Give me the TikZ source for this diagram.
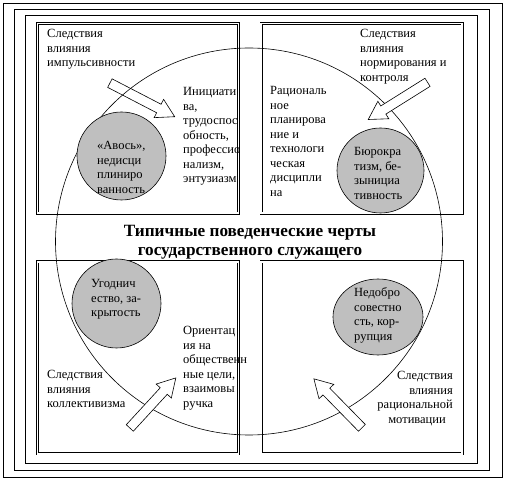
\documentclass[tikz,border=0pt]{standalone}
\usepackage{fontspec}
\setmainfont{Liberation Serif}
\usetikzlibrary{shapes.geometric,shapes.arrows,positioning}

\begin{document}
\begin{tikzpicture}[x=1pt, y=-1pt,
  frame/.style={draw, line width=0.8pt},
  qbox/.style={draw, double, line width=0.7pt, double distance=1.6pt},
  core/.style={circle, draw, line width=0.6pt, inner sep=0pt},
  gcirc/.style={ellipse, draw, fill=black!25, line width=0.6pt, inner sep=0pt},
  blockarr/.style={single arrow, draw, fill=white, line width=0.6pt, minimum height=#1, inner sep=4.5pt, single arrow head extend=5.5pt, single arrow tip angle=60},
  txt/.style={anchor=north west, align=left, inner sep=0pt, font=\fontsize{12.5}{14.5}\selectfont},
  rtxt/.style={anchor=north east, align=right, inner sep=0pt, font=\fontsize{12.5}{14.5}\selectfont},
  title/.style={align=center, inner sep=0pt, font=\fontsize{17.2}{19}\selectfont\bfseries}
]
\useasboundingbox (0,0) rectangle (507,481);
\draw[frame] (3,3) rectangle (502.5,477.5);
\draw[frame] (14,9) rectangle (489.5,470.5);
\draw[frame] (25.5,15) rectangle (477,463);

\draw[qbox] (37.5,23.5) rectangle (238.5,213.3);
\draw[qbox] (261.2,23.5) rectangle (462.2,213.3);
\draw[qbox] (37.5,262) rectangle (238.5,454);
\draw[qbox] (261.2,262) rectangle (462.2,454);

\node[blockarr=73pt, rotate=-27.4] (atl) at (138.6,98) {};
\node[core, minimum size=387pt] (ring) at (249,241.5) {};
\node[blockarr=70pt, rotate=212.1] (atr) at (401.4,98.7) {};
\node[blockarr=68pt, rotate=47.4] (abl) at (150,406) {};
\node[blockarr=68.6pt, rotate=134.4] (abr) at (340.8,406.3) {};

\node[gcirc, minimum width=89pt, minimum height=88pt] (ctl) at (121.5,156) {};
\node[gcirc, minimum width=87pt, minimum height=85pt] (ctr) at (380.5,170.5) {};
\node[gcirc, minimum width=89pt, minimum height=89pt] (cbl) at (116.5,303.5) {};
\node[gcirc, minimum width=90pt, minimum height=76pt] (cbr) at (378,317) {};

\node[title] (head) at (250,242) {Типичные поведенческие черты\\государственного служащего};

\node[txt] (tlsrc) at (47,29.5) {Следствия\\влияния\\импульсивности};
\node[txt] (tlpos) at (183,87.5) {Инициати\\ва,\\трудоспос\\обность,\\профессио\\нализм,\\энтузиазм};
\node[txt] (tlneg) at (97,141.5) {«Авось»,\\недисци\\плиниро\\ванность};

\node[txt] (trsrc) at (360,29.5) {Следствия\\влияния\\нормирования и\\контроля};
\node[txt] (trpos) at (270,86.5) {Рациональ\\ное\\планирова\\ние и\\технологи\\ческая\\дисципли\\на};
\node[txt] (trneg) at (354,147.5) {Бюрокра\\тизм, бе-\\зынициа\\тивность};

\node[txt] (blneg) at (91,279.5) {Угоднич\\ество, за-\\крытость};
\node[txt] (blpos) at (183,326.5) {Ориентац\\ия на\\общественн\\ные цели,\\взаимовы\\ручка};
\node[txt] (blsrc) at (47,370.5) {Следствия\\влияния\\коллективизма};

\node[txt] (brneg) at (354,287.5) {Недобро\\совестно\\сть, кор-\\рупция};
\node[rtxt] (brsrc) at (453,371.5) {Следствия\\влияния\\рациональной\hspace*{5pt}\\мотивации\hspace*{7pt}};
\end{tikzpicture}
\end{document}
